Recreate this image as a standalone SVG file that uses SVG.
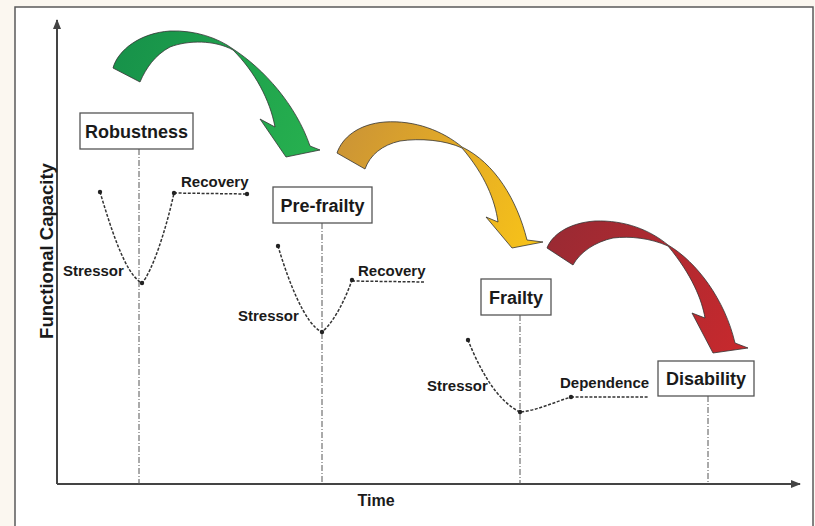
<svg xmlns="http://www.w3.org/2000/svg" width="815" height="526" viewBox="0 0 815 526">
<defs>
<style>
.box{fill:#fff;stroke:#555;stroke-width:1.3}
.lbl{font-family:"Liberation Sans",Arial,sans-serif;font-weight:bold;fill:#1a1a1a}
.big{font-size:18px}
.small{font-size:15px}
.vline{stroke:#555;stroke-width:1;stroke-dasharray:6 2 1 2;fill:none}
.curve{stroke:#333;stroke-width:1.5;stroke-dasharray:3 1.6;fill:none}
.dot{fill:#222}
.axis{stroke:#444;stroke-width:2;fill:none}
.band{stroke:#333;stroke-width:0.8;stroke-linejoin:round}
</style>
<linearGradient id="gGreen" gradientUnits="userSpaceOnUse" x1="113" y1="60" x2="320" y2="150">
<stop offset="0" stop-color="#17924a"/><stop offset="1" stop-color="#27b14f"/>
</linearGradient>
<linearGradient id="gGold" gradientUnits="userSpaceOnUse" x1="337" y1="150" x2="543" y2="245">
<stop offset="0" stop-color="#cc9535"/><stop offset="0.5" stop-color="#e5ac25"/><stop offset="1" stop-color="#f8c418"/>
</linearGradient>
<linearGradient id="gRed" gradientUnits="userSpaceOnUse" x1="547" y1="240" x2="748" y2="350">
<stop offset="0" stop-color="#9a2a33"/><stop offset="1" stop-color="#c8292d"/>
</linearGradient>
<marker id="ah" viewBox="0 0 10 10" refX="9" refY="5" markerWidth="5" markerHeight="5" orient="auto" markerUnits="strokeWidth">
<path d="M0,1 L10,5 L0,9 Z" fill="#444"/>
</marker>
</defs>
<rect x="0" y="0" width="815" height="526" fill="#fbf7f0"/>
<rect x="15" y="7" width="798" height="530" fill="#ffffff" stroke="#5a5a5a" stroke-width="1.5"/>

<g id="axes">
<line class="axis" x1="57" y1="484" x2="57" y2="20" marker-end="url(#ah)"/>
<line class="axis" x1="57" y1="484" x2="800" y2="484" marker-end="url(#ah)"/>
<text class="lbl" font-size="18.5" transform="translate(53,251) rotate(-90)" text-anchor="middle">Functional Capacity</text>
<text class="lbl" font-size="16" x="376" y="506" text-anchor="middle">Time</text>
</g>

<g id="transition-arrows">
<path id="arrow-green" class="band" fill="url(#gGreen)" d="M113,68 C118,50 140,33 170,31 C195,30 218,38 233,49 C264,69 296,105 310,146 L320,150 L286,157 L260,119 L275,127 C270,100 255,72 233,50 C215,40 188,40 170,47 C155,55 146,68 140,82 Z"/>
<path id="arrow-gold" class="band" fill="url(#gGold)" d="M337,153 C342,138 358,124 385,122 C415,120 443,131 462,147 C495,163 517,200 527,240 L543,242 L512,248 L486,217 L498,222 C495,200 485,175 462,148 C445,140 420,138 400,141 C382,145 370,155 365,169 Z"/>
<path id="arrow-red" class="band" fill="url(#gRed)" d="M547,248 C552,235 568,223 595,221 C625,220 650,230 668,245 C697,262 725,300 735,343 L748,348 L713,353 L692,313 L705,318 C702,300 692,275 668,246 C650,238 630,236 613,238 C595,242 580,252 573,265 Z"/>
</g>

<g id="connectors">
<line class="vline" x1="139" y1="149" x2="139" y2="484"/>
<line class="vline" x1="322" y1="223" x2="322" y2="484"/>
<line class="vline" x1="520" y1="315" x2="520" y2="484"/>
<line class="vline" x1="708" y1="396" x2="708" y2="484"/>
<path class="curve" d="M100,192 C110,225 125,275 142,283 C152,272 166,230 174,193"/>
<path class="curve" d="M174,193 L247,194"/>
<path class="curve" d="M278,246 C288,280 305,325 322,332 C334,322 345,300 352,280"/>
<path class="curve" d="M352,281 L425,282"/>
<path class="curve" d="M468,340 C478,365 495,400 520,412 C535,411 555,402 571,397"/>
<path class="curve" d="M571,397 L648,397"/>
<circle class="dot" cx="100" cy="192" r="2.2"/>
<circle class="dot" cx="142" cy="283" r="2.2"/>
<circle class="dot" cx="174" cy="193" r="2.2"/>
<circle class="dot" cx="247" cy="194" r="2.2"/>
<circle class="dot" cx="278" cy="246" r="2.2"/>
<circle class="dot" cx="322" cy="332" r="2.2"/>
<circle class="dot" cx="352" cy="280" r="2.2"/>
<circle class="dot" cx="468" cy="340" r="2.2"/>
<circle class="dot" cx="520" cy="412" r="2.2"/>
<circle class="dot" cx="571" cy="397" r="2.2"/>
<text class="lbl small" x="181" y="187">Recovery</text>
<text class="lbl small" x="63" y="276">Stressor</text>
<text class="lbl small" x="358" y="276">Recovery</text>
<text class="lbl small" x="238" y="321">Stressor</text>
<text class="lbl small" x="427" y="391">Stressor</text>
<text class="lbl small" x="560" y="388">Dependence</text>
</g>

<g id="robustness">
<rect class="box" x="80" y="113" width="113" height="36"/>
<text class="lbl big" x="136.5" y="138" text-anchor="middle">Robustness</text>
</g>
<g id="pre-frailty">
<rect class="box" x="273" y="187" width="99" height="36"/>
<text class="lbl big" x="322.5" y="212" text-anchor="middle">Pre-frailty</text>
</g>
<g id="frailty">
<rect class="box" x="481" y="279" width="70" height="36"/>
<text class="lbl big" x="516" y="304" text-anchor="middle">Frailty</text>
</g>
<g id="disability">
<rect class="box" x="658" y="361" width="96" height="35"/>
<text class="lbl big" x="706" y="385" text-anchor="middle">Disability</text>
</g>
</svg>
